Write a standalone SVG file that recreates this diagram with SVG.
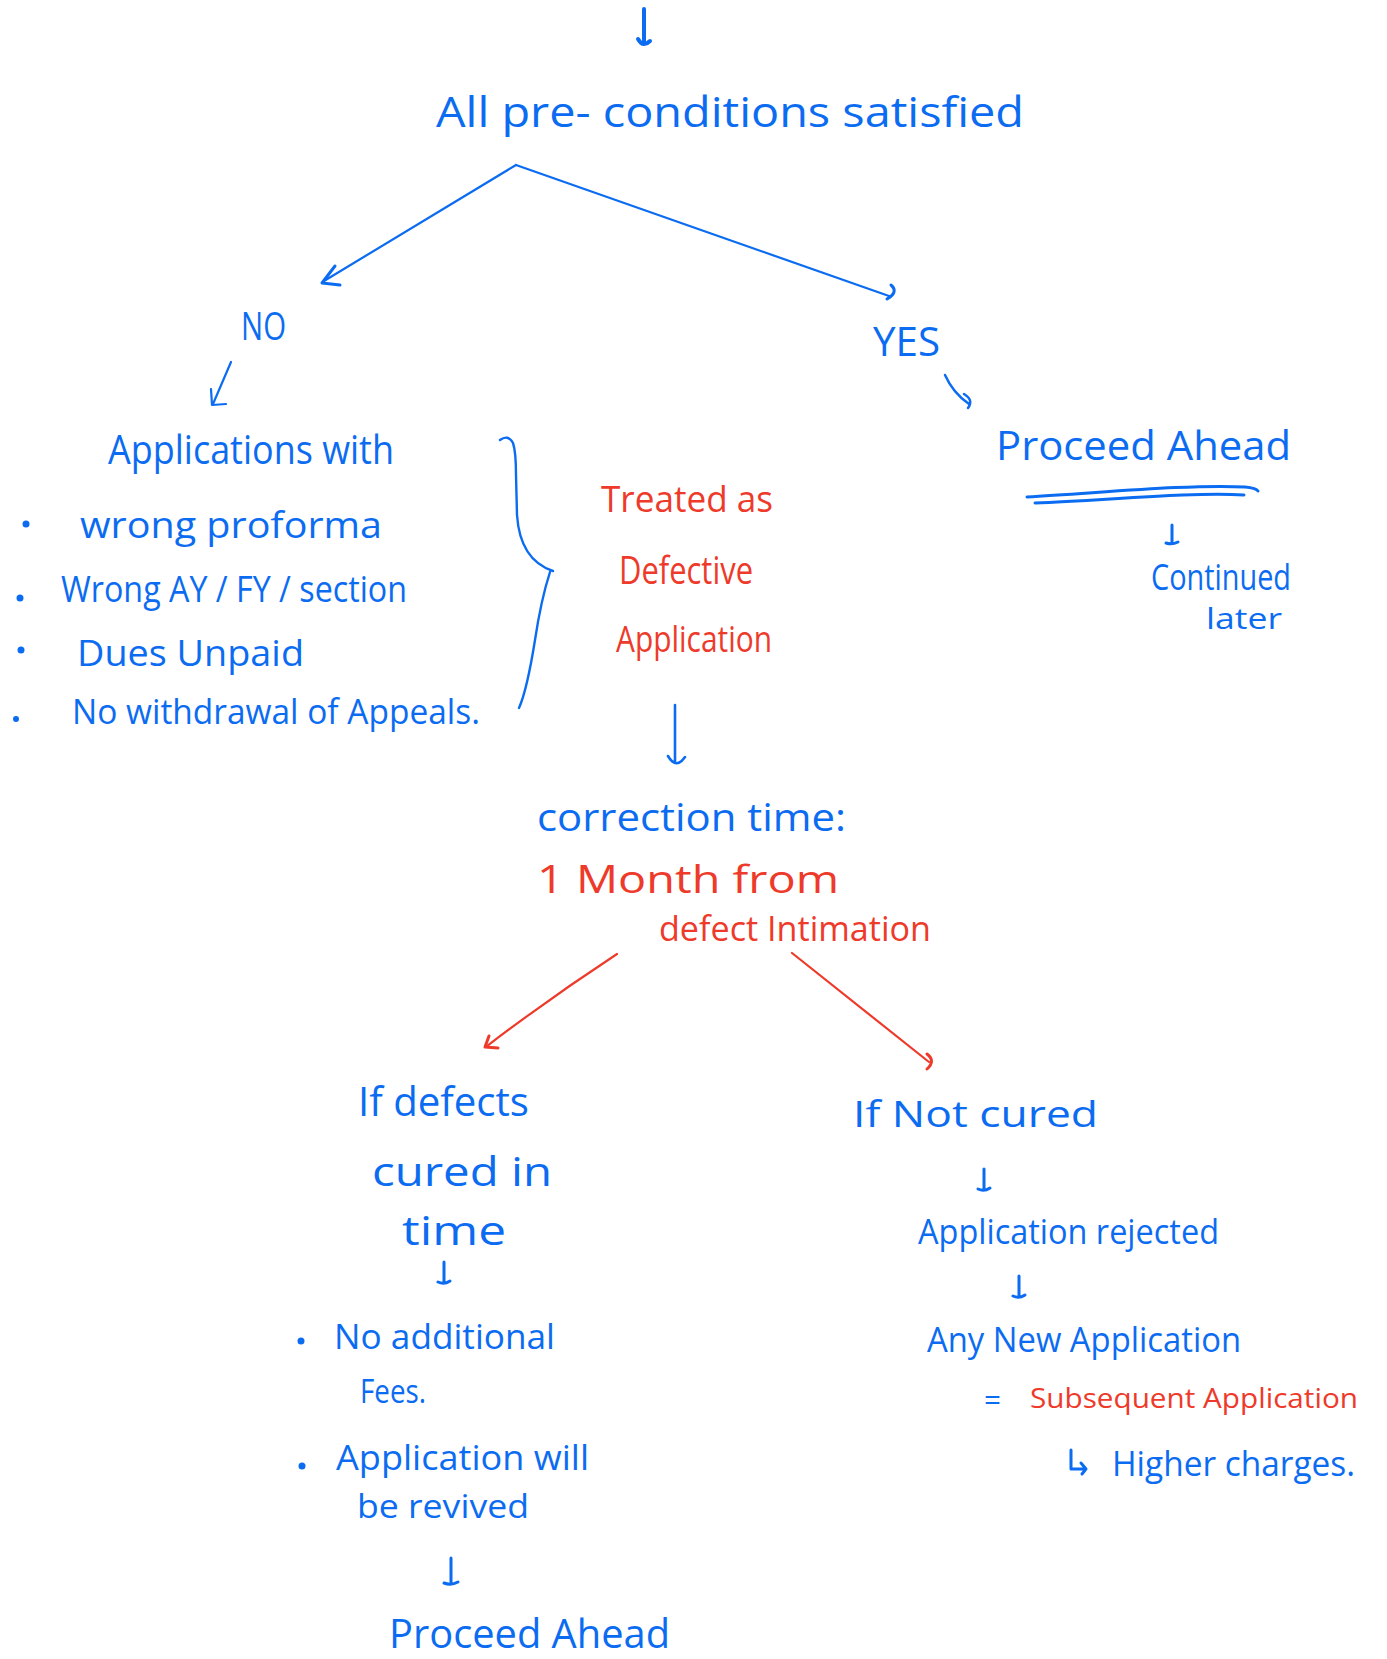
<svg xmlns="http://www.w3.org/2000/svg" width="1387" height="1659" viewBox="0 0 1387 1659">
<style>
text{font-family:"Open Sans","Noto Sans","DejaVu Sans",sans-serif;}
.b{fill:#0b6cf2;}
.r{fill:#ee3a2a;}
.lb{stroke:#0b6cf2;fill:none;stroke-linecap:round;stroke-linejoin:round;}
.lr{stroke:#ee3a2a;fill:none;stroke-linecap:round;stroke-linejoin:round;}
.dot{fill:#0b6cf2;}
</style>
<rect width="1387" height="1659" fill="#ffffff"/>

<g id="connectors">
  <path class="lb" stroke-width="4" d="M644,9 L644,41 M638,39 Q643,48 650,41"/>
  <path class="lb" stroke-width="2.2" d="M516,165 L324,281"/>
  <path class="lb" stroke-width="3" d="M335,266 L322,283 L340,285"/>
  <path class="lb" stroke-width="2.2" d="M516,165 L889,296"/>
  <path class="lb" stroke-width="3" d="M891,285 Q899,292 887,299"/>
  <path class="lb" stroke-width="2.2" d="M231,362 L213,404"/>
  <path class="lb" stroke-width="2.2" d="M211,389 L212,405 L226,404"/>
  <path class="lb" stroke-width="2.5" d="M945,375 Q953,393 969,404"/>
  <path class="lb" stroke-width="2.5" d="M964,394 Q974,400 968,408"/>
  <path class="lb" stroke-width="2.4" d="M500,440 Q508,434 513,443 Q516,452 516,475 L517,515 Q520,560 553,571 M550,572 Q541,600 535,640 Q527,690 519,708"/>
  <path class="lb" stroke-width="2.6" d="M675,705 L675,763 M668,756 Q676,770 685,757"/>
  <path class="lr" stroke-width="2.2" d="M617,954 Q550,998 487,1046"/>
  <path class="lr" stroke-width="3" d="M489,1036 L485,1047 L498,1048"/>
  <path class="lr" stroke-width="2.2" d="M792,953 L929,1062"/>
  <path class="lr" stroke-width="3" d="M927,1054 Q936,1061 927,1069"/>
  <path class="lb" stroke-width="3" d="M1027,497 C1100,493 1190,484 1245,487 Q1256,488 1258,491"/>
  <path class="lb" stroke-width="3" d="M1035,503 C1110,500 1190,492 1244,495"/>
  <path class="lb" stroke-width="3" d="M1172,525 L1172,543 M1166,543 Q1172,545 1178,542"/>
  <path class="lb" stroke-width="3" d="M444,1262 L444,1282 M438,1282 Q444,1285 450,1281"/>
  <path class="lb" stroke-width="3" d="M451,1558 L451,1583 M444,1583 Q451,1586 458,1582"/>
  <path class="lb" stroke-width="3" d="M984,1169 L984,1189 M978,1189 Q984,1192 990,1188"/>
  <path class="lb" stroke-width="3" d="M1019,1276 L1019,1296 M1013,1296 Q1019,1299 1025,1295"/>
  <path class="lb" stroke-width="3" d="M1071,1450 L1071,1469 L1086,1469 M1081,1463 L1086,1469 L1082,1474"/>
</g>

<g id="precondition">
  <text class="b" x="436" y="127" font-size="42" textLength="588" lengthAdjust="spacingAndGlyphs">All  pre-  conditions  satisfied</text>
</g>

<g id="no">
  <text class="b" x="241" y="340" font-size="38" textLength="45" lengthAdjust="spacingAndGlyphs">NO</text>
</g>

<g id="yes">
  <text class="b" x="873" y="356" font-size="40" textLength="67" lengthAdjust="spacingAndGlyphs">YES</text>
</g>

<g id="applications-with">
  <text class="b" x="108" y="464" font-size="40" textLength="286" lengthAdjust="spacingAndGlyphs">Applications  with</text>
  <circle class="dot" cx="26" cy="524" r="3.5"/>
  <text class="b" x="80" y="538" font-size="36" textLength="302" lengthAdjust="spacingAndGlyphs">wrong  proforma</text>
  <circle class="dot" cx="20" cy="598" r="3.5"/>
  <text class="b" x="61" y="602" font-size="36" textLength="346" lengthAdjust="spacingAndGlyphs">Wrong  AY / FY / section</text>
  <circle class="dot" cx="21" cy="650" r="3.5"/>
  <text class="b" x="77" y="666" font-size="36" textLength="227" lengthAdjust="spacingAndGlyphs">Dues  Unpaid</text>
  <circle class="dot" cx="16" cy="719" r="3"/>
  <text class="b" x="72" y="724" font-size="34" textLength="408" lengthAdjust="spacingAndGlyphs">No  withdrawal  of  Appeals.</text>
</g>

<g id="defective">
  <text class="r" x="601" y="512" font-size="36" textLength="172" lengthAdjust="spacingAndGlyphs">Treated as</text>
  <text class="r" x="619" y="584" font-size="38" textLength="134" lengthAdjust="spacingAndGlyphs">Defective</text>
  <text class="r" x="616" y="652" font-size="36" textLength="156" lengthAdjust="spacingAndGlyphs">Application</text>
</g>

<g id="proceed-ahead-yes">
  <text class="b" x="996" y="460" font-size="40" textLength="295" lengthAdjust="spacingAndGlyphs">Proceed  Ahead</text>
</g>

<g id="continued-later">
  <text class="b" x="1151" y="590" font-size="36" textLength="140" lengthAdjust="spacingAndGlyphs">Continued</text>
  <text class="b" x="1206" y="629" font-size="30" textLength="76" lengthAdjust="spacingAndGlyphs">later</text>
</g>

<g id="correction-time">
  <text class="b" x="537" y="831" font-size="38" textLength="309" lengthAdjust="spacingAndGlyphs">correction  time:</text>
  <text class="r" x="537" y="893" font-size="38" textLength="302" lengthAdjust="spacingAndGlyphs">1  Month  from</text>
  <text class="r" x="659" y="941" font-size="34" textLength="272" lengthAdjust="spacingAndGlyphs">defect   Intimation</text>
</g>

<g id="cured-in-time">
  <text class="b" x="358" y="1116" font-size="40" textLength="171" lengthAdjust="spacingAndGlyphs">If defects</text>
  <text class="b" x="372" y="1186" font-size="40" textLength="180" lengthAdjust="spacingAndGlyphs">cured  in</text>
  <text class="b" x="402" y="1245" font-size="40" textLength="104" lengthAdjust="spacingAndGlyphs">time</text>
</g>

<g id="cured-result">
  <circle class="dot" cx="301" cy="1341" r="3.5"/>
  <text class="b" x="334" y="1349" font-size="34" textLength="221" lengthAdjust="spacingAndGlyphs">No  additional</text>
  <text class="b" x="360" y="1403" font-size="32" textLength="66" lengthAdjust="spacingAndGlyphs">Fees.</text>
  <circle class="dot" cx="302" cy="1466" r="3.5"/>
  <text class="b" x="336" y="1470" font-size="34" textLength="253" lengthAdjust="spacingAndGlyphs">Application  will</text>
  <text class="b" x="357" y="1518" font-size="32" textLength="172" lengthAdjust="spacingAndGlyphs">be  revived</text>
</g>

<g id="proceed-ahead-bottom">
  <text class="b" x="389" y="1648" font-size="40" textLength="281" lengthAdjust="spacingAndGlyphs">Proceed   Ahead</text>
</g>

<g id="not-cured">
  <text class="b" x="853" y="1127" font-size="36" textLength="245" lengthAdjust="spacingAndGlyphs">If  Not  cured</text>
</g>

<g id="rejected">
  <text class="b" x="918" y="1244" font-size="34" textLength="301" lengthAdjust="spacingAndGlyphs">Application   rejected</text>
</g>

<g id="new-application">
  <text class="b" x="927" y="1352" font-size="34" textLength="314" lengthAdjust="spacingAndGlyphs">Any  New  Application</text>
  <text class="b" x="984" y="1410" font-size="30" textLength="17" lengthAdjust="spacingAndGlyphs">=</text>
  <text class="r" x="1030" y="1408" font-size="28" textLength="328" lengthAdjust="spacingAndGlyphs">Subsequent Application</text>
  <text class="b" x="1112" y="1476" font-size="34" textLength="243" lengthAdjust="spacingAndGlyphs">Higher  charges.</text>
</g>
</svg>
